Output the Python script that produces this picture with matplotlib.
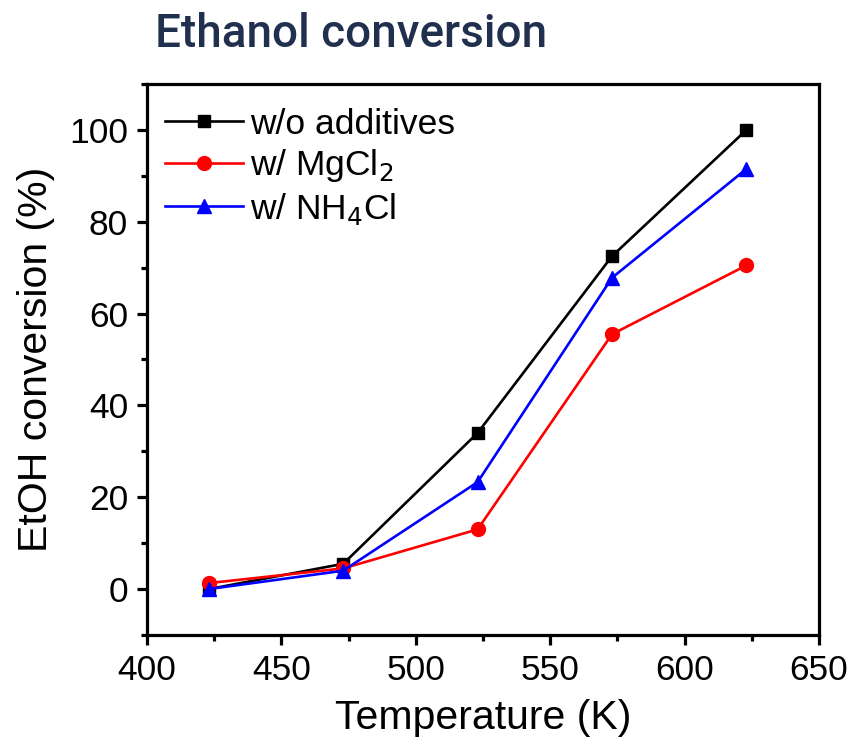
import matplotlib.pyplot as plt

temps = [423, 473, 523, 573, 623]
no_add = [0.0, 5.5, 34.0, 72.5, 100.0]
mgcl2 = [1.3, 4.5, 13.0, 55.5, 70.5]
nh4cl = [0.0, 4.0, 23.3, 67.8, 91.5]

plt.rcParams['font.family'] = ['Liberation Sans', 'DejaVu Sans']

fig = plt.figure(figsize=(8.51, 7.52), dpi=100)
ax = fig.add_axes([0.1727, 0.1556, 0.7897, 0.7327])

ax.plot(temps, no_add, color="black", marker="s", markersize=9,
        linewidth=1.9, label="w/o additives")
ax.plot(temps, mgcl2, color="red", marker="o", markersize=10,
        linewidth=1.9, label="w/ MgCl$_2$")
ax.plot(temps, nh4cl, color="blue", marker="^", markersize=10.5,
        linewidth=1.9, label="w/ NH$_4$Cl")

ax.set_xlim(400, 650)
ax.set_ylim(-10, 110)
ax.set_xticks([400, 450, 500, 550, 600, 650])
ax.set_yticks([0, 20, 40, 60, 80, 100])
ax.set_xticks([425, 475, 525, 575, 625], minor=True)
ax.set_yticks([-10, 10, 30, 50, 70, 90, 110], minor=True)

for s in ax.spines.values():
    s.set_linewidth(2.3)
ax.tick_params(which="major", direction="out", length=7.5, width=2.3,
               labelsize=25.5, pad=6)
ax.tick_params(which="minor", direction="out", length=4, width=2.3)

ax.set_xlabel("Temperature (K)", fontsize=29.5, labelpad=9)
ax.set_ylabel("EtOH conversion (%)", fontsize=29.5, labelpad=10)

ax.legend(loc="upper left", frameon=False, fontsize=25.5,
          handlelength=2.2, handletextpad=0.2, labelspacing=0.18,
          borderaxespad=0.1, bbox_to_anchor=(0.0, 0.989))

fig.text(155 / 851, 1 - 47 / 752, "Ethanol conversion", fontsize=33,
         color="#22304f", family="Roboto", fontweight="medium",
         ha="left", va="baseline")

fig.savefig("out.png", dpi=100)
